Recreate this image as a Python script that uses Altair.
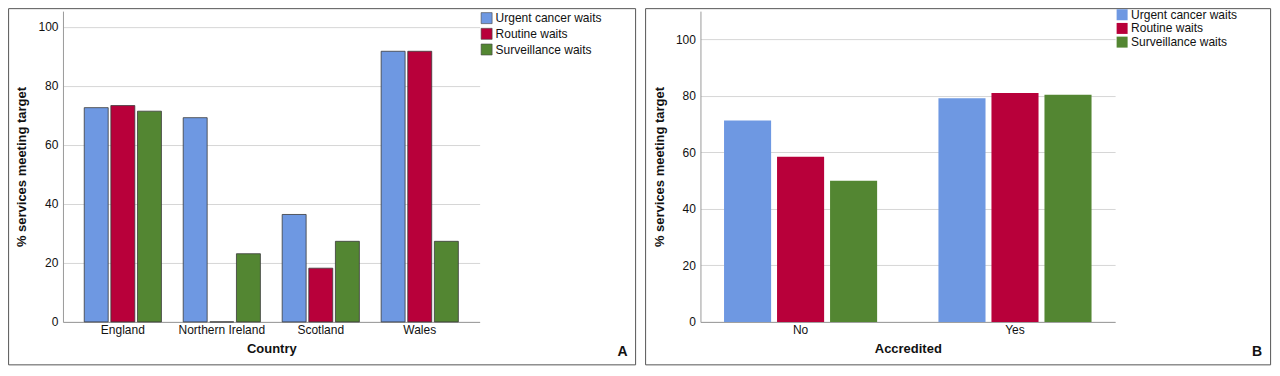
import altair as alt
import pandas as pd

series = ["Urgent cancer waits", "Routine waits", "Surveillance waits"]
colors = ["#6e98e2", "#b8003a", "#538632"]

countries = ["England", "Northern Ireland", "Scotland", "Wales"]
urgent_a = [72.6, 69.2, 36.4, 91.7]
routine_a = [73.3, 0.0, 18.2, 91.7]
surveillance_a = [71.4, 23.1, 27.3, 27.3]

accredited = ["No", "Yes"]
urgent_b = [71.3, 79.2]
routine_b = [58.5, 81.0]
surveillance_b = [50.0, 80.4]

y_ticks = [0, 20, 40, 60, 80, 100]

FONT = "Liberation Sans"


def long_df(cats, cat_name, *vals):
    rows = []
    for s, v in zip(series, vals):
        for c, x in zip(cats, v):
            rows.append({cat_name: c, "Series": s, "Value": x})
    return pd.DataFrame(rows)


df_a = long_df(countries, "Country", urgent_a, routine_a, surveillance_a)
df_b = long_df(accredited, "Accredited", urgent_b, routine_b, surveillance_b)

H = 311


def panel(df, cat_name, cats, width, ymax, pin, pout, offpad, stroke,
          legend_x, legend_y, frame_x, frame_x2, letter, letter_x):
    color = alt.Color(
        "Series:N",
        sort=series,
        scale=alt.Scale(domain=series, range=colors),
        legend=alt.Legend(
            title=None, orient="none", legendX=legend_x, legendY=legend_y,
            symbolType="square", symbolSize=121,
            symbolStrokeColor="#444" if stroke else "transparent",
            symbolStrokeWidth=0.6 if stroke else 0,
            labelFontSize=12, labelFont=FONT, labelColor="#111",
            rowPadding=1.7, labelOffset=3, padding=0, offset=0, labelLimit=300,
        ),
    )
    bar_kwargs = dict(stroke="#3a3a3a", strokeWidth=0.8) if stroke else dict(strokeWidth=0)
    bars = alt.Chart(df).mark_bar(**bar_kwargs).encode(
        x=alt.X(
            f"{cat_name}:N", sort=cats,
            scale=alt.Scale(paddingInner=pin, paddingOuter=pout),
            axis=alt.Axis(
                title=cat_name, labelAngle=0, ticks=False, labelPadding=3,
                labelFontSize=12, labelFont=FONT, labelColor="#111",
                titleFontSize=13, titleFont=FONT, titleFontWeight="bold",
                titleColor="#111", titlePadding=7,
                domainColor="#9a9a9a", grid=False,
            ),
        ),
        xOffset=alt.XOffset("Series:N", sort=series,
                            scale=alt.Scale(paddingInner=offpad, paddingOuter=0)),
        y=alt.Y(
            "Value:Q",
            scale=alt.Scale(domain=[0, ymax], nice=False),
            axis=alt.Axis(
                title="% services meeting target", values=y_ticks, ticks=False,
                labelPadding=5, labelFontSize=12, labelFont=FONT, labelColor="#111",
                titleFontSize=13, titleFont=FONT, titleFontWeight="bold",
                titleColor="#111", titlePadding=9,
                domainColor="#9a9a9a", gridColor="#d6d6d6", gridWidth=1,
            ),
        ),
        color=color,
    )
    frame = alt.Chart(alt.Data(values=[{}])).mark_rect(
        fill="transparent", stroke="#555", strokeWidth=1
    ).encode(
        x=alt.value(frame_x), x2=alt.value(frame_x2),
        y=alt.value(-2.5), y2=alt.value(354),
    )
    tag = alt.Chart(alt.Data(values=[{}])).mark_text(
        text=letter, font=FONT, fontSize=14, fontWeight="bold",
        color="#111", align="center", baseline="middle",
    ).encode(x=alt.value(letter_x), y=alt.value(341))
    return alt.layer(bars, frame, tag).properties(width=width, height=H)


chart_a = panel(df_a, "Country", countries, 417, 105.3, 0.22, 0.215, 0.1, True,
                418, 1, -54.4, 573.1, "A", 560)
chart_b = panel(df_b, "Accredited", accredited, 415, 110, 0.286, 0.11, 0.112, False,
                416, -2.4, -54.9, 570.6, "B", 557)

chart = alt.hconcat(chart_a, chart_b, spacing=8).resolve_scale(
    x="independent", y="independent", color="independent", xOffset="independent"
).resolve_legend(color="independent").properties(padding=0).configure_view(
    stroke=None
)

chart.save("out.html", embed_options={"renderer": "svg", "actions": False})
